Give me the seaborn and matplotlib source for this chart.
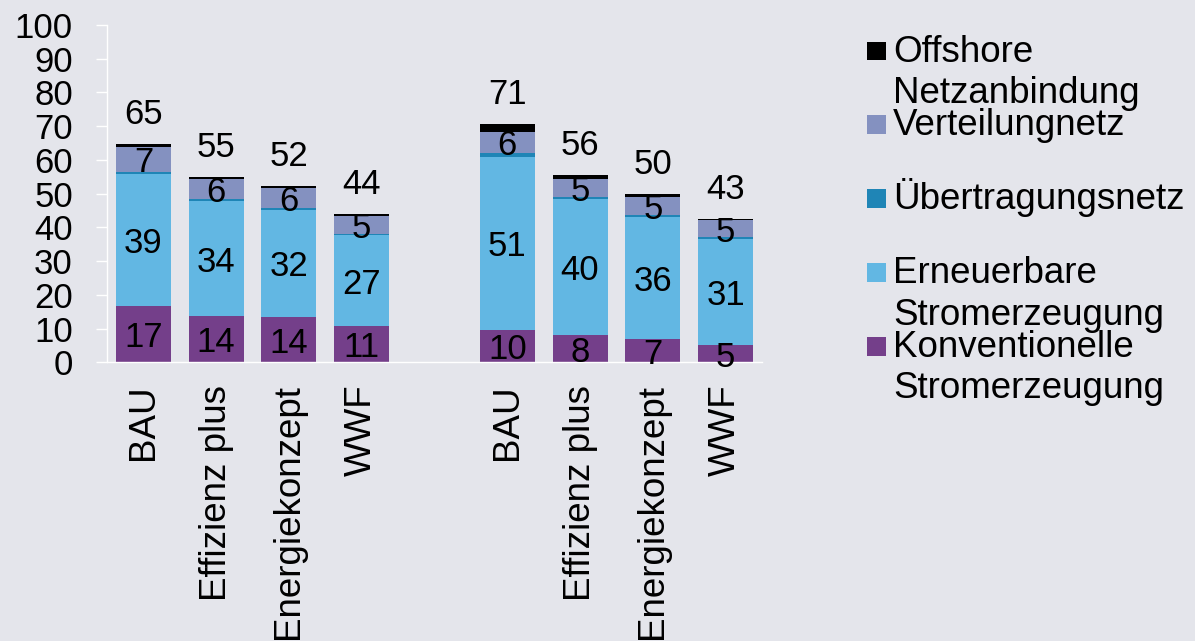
import math
import numpy as np
import pandas as pd
import matplotlib
matplotlib.use("Agg")
import matplotlib.pyplot as plt
from matplotlib.patches import Rectangle
from matplotlib.font_manager import FontProperties
import seaborn as sns

# ---------------- data ----------------
scenarios = ["BAU", "Effizienz plus", "Energiekonzept", "WWF"]
groups = ["A", "B"]
konventionelle = [16.7, 13.7, 13.5, 10.8, 9.6, 8.0, 6.8, 5.2]
erneuerbare = [39.0, 34.1, 31.7, 26.9, 51.4, 40.4, 36.2, 31.4]
uebertragung = [0.8, 0.7, 0.6, 0.4, 1.0, 0.7, 0.7, 0.4]
verteilung = [7.4, 5.8, 5.9, 5.4, 6.4, 5.3, 5.3, 5.2]
offshore = [0.9, 0.6, 0.5, 0.5, 2.2, 1.2, 0.9, 0.4]

series_labels = ["Offshore\nNetzanbindung", "Verteilungnetz", "Übertragungsnetz",
                 "Erneuerbare\nStromerzeugung", "Konventionelle\nStromerzeugung"]
series_colors = ["#000000", "#8491C0", "#1F85B6", "#62B7E3", "#743F8A"]
y_ticks = [0, 10, 20, 30, 40, 50, 60, 70, 80, 90, 100]

BG = "#E4E5EB"
FS = 25
FS_X = 26.5
FS_LEG = 26.5

keys = [f"{g}|{s}" for g in groups for s in scenarios]
order = keys[:4] + ["gap"] + keys[4:]
tick_labels = scenarios + [""] + scenarios

df = pd.DataFrame({
    "key": keys,
    "konv": konventionelle,
    "ern": erneuerbare,
    "ueb": uebertragung,
    "vert": verteilung,
    "off": offshore,
})
df["c1"] = df["konv"]
df["c2"] = df["c1"] + df["ern"]
df["c3"] = df["c2"] + df["ueb"]
df["c4"] = df["c3"] + df["vert"]
df["c5"] = df["c4"] + df["off"]


def rnd(v):
    return str(int(math.floor(v + 0.5 + 1e-9)))


# ---------------- figure ----------------
plt.rcParams["font.family"] = ["Liberation Sans", "DejaVu Sans"]
W, H = 1195, 641
fig = plt.figure(figsize=(W / 100, H / 100), dpi=100, facecolor=BG)
ax = fig.add_axes([107 / W, 1 - 362.3 / H, 655 / W, (362.3 - 25) / H])
ax.set_facecolor(BG)

layers = ["c5", "c4", "c3", "c2", "c1"]
for col, color in zip(layers, series_colors):
    sns.barplot(data=df, x="key", y=col, order=order, color=color, width=0.755,
                saturation=1, errorbar=None, linewidth=0, ax=ax)

ax.set_ylim(0, 100)
ax.set_yticks(y_ticks)
ax.set_yticklabels([str(t) for t in y_ticks], fontsize=FS)
ax.set_xticks(range(len(order)))
ax.set_xticklabels(tick_labels, rotation=90, fontsize=FS_X)
ax.set_xlabel("")
ax.set_ylabel("")
ax.tick_params(axis="y", direction="out", length=7.6, width=1.0, color="white", pad=17)
ax.tick_params(axis="x", length=0, pad=16)
for s in ["top", "right"]:
    ax.spines[s].set_visible(False)
for s in ["left", "bottom"]:
    ax.spines[s].set_color("white")
    ax.spines[s].set_linewidth(1.0)
ax.grid(False)

# ---------------- labels ----------------
for _, row in df.iterrows():
    xi = order.index(row["key"])
    ax.text(xi, row["c1"] / 2, rnd(row["konv"]), ha="center", va="center_baseline",
            fontsize=FS, zorder=5)
    ax.text(xi, (row["c1"] + row["c2"]) / 2, rnd(row["ern"]), ha="center",
            va="center_baseline", fontsize=FS, zorder=5)
    ax.text(xi, (row["c3"] + row["c4"]) / 2, rnd(row["vert"]), ha="center",
            va="center_baseline", fontsize=FS, zorder=5)
    ax.annotate(rnd(row["c5"]), xy=(xi, row["c5"]), xytext=(0, 14.4),
                textcoords="offset points", ha="center", va="baseline",
                fontsize=FS, zorder=5, annotation_clip=False)

# ---------------- legend (manual, first line aligned with marker) ----------------
LS = 1.3
renderer = fig.canvas.get_renderer()
fp = FontProperties(family=["Liberation Sans", "DejaVu Sans"], size=FS_LEG)
_, lp_h, lp_d = renderer.get_text_width_height_descent("lp", fp, ismath=False)
line_step = lp_d + (lp_h - lp_d) * LS
# aim for ~41.7 px between baselines
LS = (41.7 - lp_d) / (lp_h - lp_d)
line_step = lp_d + (lp_h - lp_d) * LS

base0 = 61.5
step = 73.8
for i, (lab, color) in enumerate(zip(series_labels, series_colors)):
    by = base0 + i * step
    cy = by - 10.5
    sq = 18.7
    fig.add_artist(Rectangle((867.3 / W, 1 - (cy + sq / 2) / H), sq / W, sq / H,
                             transform=fig.transFigure, facecolor=color,
                             edgecolor="none"))
    nlines = lab.count("\n") + 1
    last_base = by + (nlines - 1) * line_step
    fig.text(893 / W, 1 - last_base / H, lab, ha="left", va="baseline",
             fontsize=FS_LEG, linespacing=LS)

fig.savefig("out.png", dpi=100, facecolor=BG)
